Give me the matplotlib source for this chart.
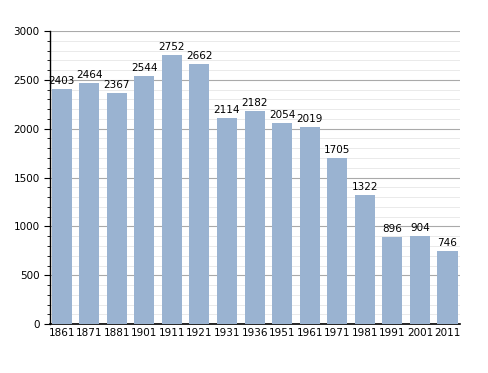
import matplotlib
matplotlib.use("Agg")
import matplotlib.pyplot as plt
from matplotlib.ticker import MultipleLocator

years = ['1861', '1871', '1881', '1901', '1911', '1921', '1931', '1936',
         '1951', '1961', '1971', '1981', '1991', '2001', '2011']
population = [2403, 2464, 2367, 2544, 2752, 2662, 2114, 2182,
              2054, 2019, 1705, 1322, 896, 904, 746]


def main():
    fig = plt.figure(figsize=(4.88, 3.73), dpi=100)
    ax = fig.add_axes([0.1025, 0.131, 0.84, 0.786])

    x = range(len(years))
    bars = ax.bar(x, population, width=0.73, color='#9ab3d1', zorder=3)
    for b, v in zip(bars, population):
        ax.text(b.get_x() + b.get_width() / 2, v + 30, str(v),
                ha='center', va='bottom', fontsize=7.5, zorder=4)

    ax.set_xlim(-0.42, 14.45)
    ax.set_ylim(0, 3000)
    ax.set_xticks(list(x))
    ax.set_xticklabels(years, fontsize=7.5)
    ax.yaxis.set_major_locator(MultipleLocator(500))
    ax.yaxis.set_minor_locator(MultipleLocator(100))
    ax.tick_params(axis='y', labelsize=7.5, length=4, width=0.8)
    ax.tick_params(axis='y', which='minor', length=2, width=0.6)
    ax.tick_params(axis='x', length=0, pad=3)

    ax.grid(axis='y', which='major', color='#aaaaaa', linewidth=0.8, zorder=0)
    ax.grid(axis='y', which='minor', color='#e6e6e6', linewidth=0.6, zorder=0)
    for s in ['top', 'right']:
        ax.spines[s].set_visible(False)
    ax.spines['left'].set_linewidth(1.0)
    ax.spines['bottom'].set_linewidth(1.2)

    fig.savefig('out.png', dpi=100)


if __name__ == "__main__":
    main()
